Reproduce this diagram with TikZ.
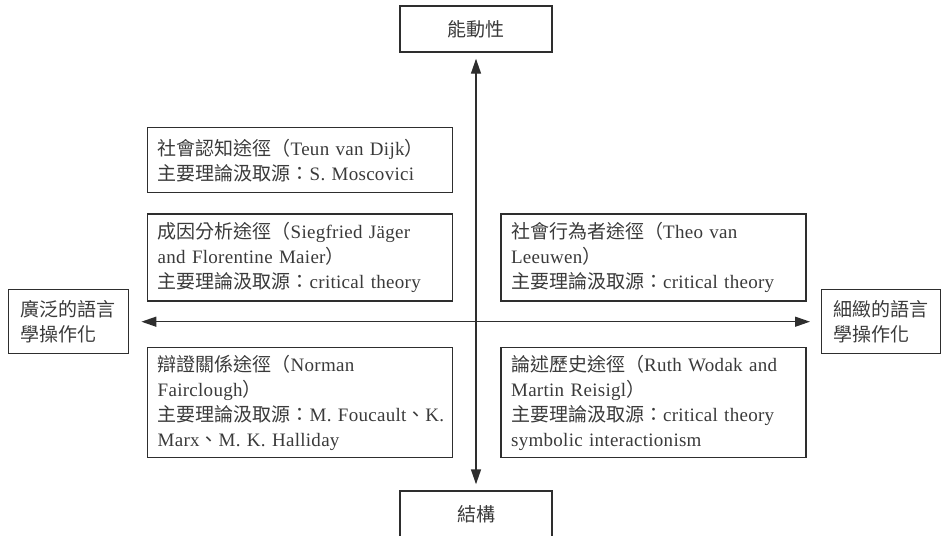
\documentclass[tikz,border=0pt]{standalone}
\usepackage{fontspec}
\setmainfont{Liberation Serif}[LetterSpace=1.5]
\newfontfamily\zh{Noto Sans CJK TC}
\usepackage{tikz}
\usetikzlibrary{arrows.meta,positioning}
\definecolor{inkgrey}{HTML}{3A3A3A}
\definecolor{rulegrey}{HTML}{2E2E2E}
\hfuzz=20pt
\tikzset{
        every node/.style={font=\fontsize{19}{25}\selectfont, text=inkgrey},
        axisbox/.style={draw=rulegrey, line width=1.4pt, minimum width=152pt,
                minimum height=46pt, inner sep=0pt},
        sidebox/.style={draw=rulegrey, line width=1.4pt, text width=96pt,
                align=left, inner xsep=12pt, inner ysep=0pt, minimum height=64pt},
        quadbox/.style={draw=rulegrey, line width=1.4pt, text width=285pt,
                align=left, inner xsep=10pt, inner ysep=0pt},
        axisline/.style={draw=rulegrey, line width=1.4pt,
                {Triangle[length=15pt,width=10pt]}-{Triangle[length=15pt,width=10pt]}}
}

\begin{document}
\begin{tikzpicture}[x=1pt,y=-1pt]
        \useasboundingbox (0,0) rectangle (941,535);
        \node[axisbox] (Top) at (476,29) {\zh 能動性};
        \node[axisbox] (Bot) at (476,514) {\zh 結構};
        \node[sidebox, anchor=north west] (Broad) at (8,289) {\zh 廣泛的語言\\學操作化};
        \node[sidebox, text width=95pt, anchor=north west] (Fine) at (821,289) {\zh 細緻的語言\\學操作化};
        \node[quadbox, minimum height=65pt, anchor=north west] (SocCog) at (147,127)
                {{\zh 社會認知途徑（}Teun van Dijk{\zh ）}\\
                {\zh 主要理論汲取源：}S. Moscovici};
        \node[quadbox, minimum height=87pt, below=20pt of SocCog] (Disp)
                {{\zh 成因分析途徑（}Siegfried Jäger\\
                and Florentine Maier{\zh ）}\\
                {\zh 主要理論汲取源：}critical theory};
        \node[quadbox, minimum height=87pt, right=47pt of Disp] (SocAct)
                {{\zh 社會行為者途徑（}Theo van\\
                Leeuwen{\zh ）}\\
                {\zh 主要理論汲取源：}critical theory};
        \node[quadbox, minimum height=110pt, anchor=north west] (Dial) at (147,347)
                {{\zh 辯證關係途徑（}Norman\\
                Fairclough{\zh ）}\\
                \mbox{{\zh 主要理論汲取源：}M. Foucault{\zh 、}K.}\\
                Marx{\zh 、}M. K. Halliday};
        \node[quadbox, minimum height=110pt, right=47pt of Dial] (DisHist)
                {{\zh 論述歷史途徑（}Ruth Wodak and\\
                Martin Reisigl{\zh ）}\\
                {\zh 主要理論汲取源：}critical theory\\
                symbolic interactionism};
        \draw[axisline, shorten <=6pt, shorten >=6pt] (Top) -- (Bot);
        \draw[axisline, shorten <=12pt, shorten >=11pt] (Broad) -- (Fine);
\end{tikzpicture}
\end{document}
